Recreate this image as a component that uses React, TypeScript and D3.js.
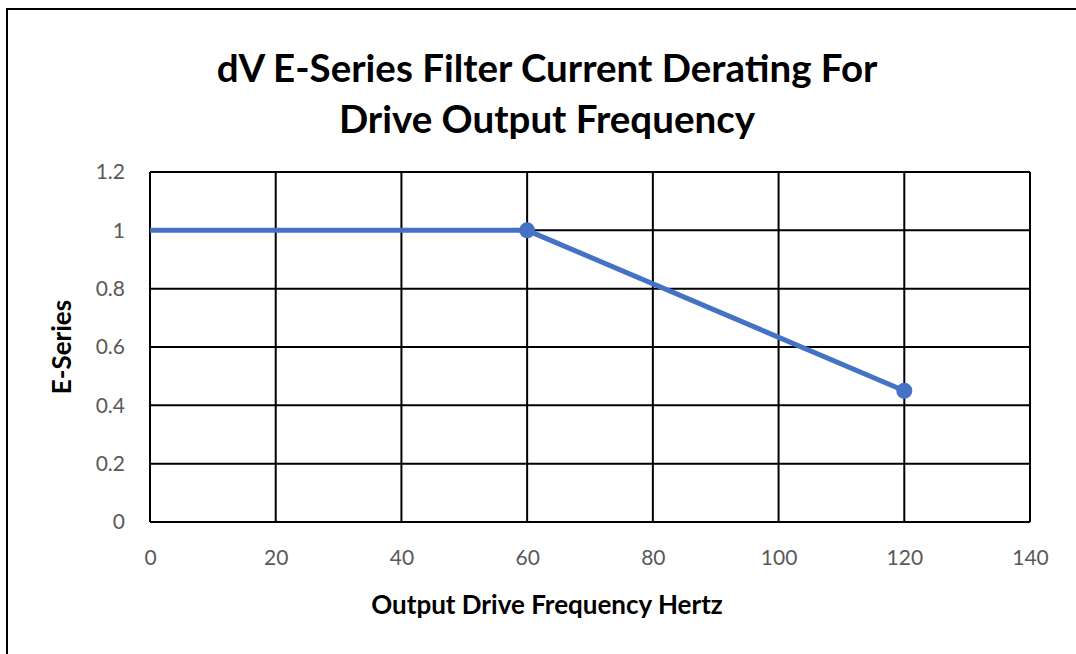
import * as d3 from "d3";
import { useRef, useEffect } from "react";

// chart data
const freqHz: number[] = [0, 60, 120];
const derating: number[] = [1, 1, 0.45];
const markerFreqs: number[] = [60, 120];
const xTicks: number[] = [0, 20, 40, 60, 80, 100, 120, 140];
const yTicks: number[] = [0, 0.2, 0.4, 0.6, 0.8, 1, 1.2];
const titleLines: string[] = [
  "dV E-Series Filter Current Derating For",
  "Drive Output Frequency",
];
const xTitle = "Output Drive Frequency Hertz";
const yTitle = "E-Series";

const width = 1076;
const height = 654;
const marginLeft = 150;
const marginRight = 46;
const marginTop = 172;
const marginBottom = 132;
const font = "Lato, 'Open Sans', sans-serif";
const blue = "#4472C4";

export default function App() {
  const gx = useRef(null);
  const gy = useRef(null);

  const x = d3.scaleLinear([0, 140], [marginLeft, width - marginRight]);
  const y = d3.scaleLinear([0, 1.2], [height - marginBottom, marginTop]);

  useEffect(() => {
    const ax = d3.select(gx.current);
    ax.call(d3.axisBottom(x).tickValues(xTicks).tickSize(0).tickPadding(28));
    ax.select(".domain").remove();
    ax.selectAll("text")
      .attr("font-family", font)
      .attr("font-size", 21)
      .attr("fill", "#595959");

    const ay = d3.select(gy.current);
    ay.call(
      d3.axisLeft(y).tickValues(yTicks).tickSize(0).tickPadding(25).tickFormat(d3.format("~g")),
    );
    ay.select(".domain").remove();
    ay.selectAll("text")
      .attr("font-family", font)
      .attr("font-size", 21)
      .attr("fill", "#595959");
  }, []);

  const points = freqHz.map((f, i) => [f, derating[i]]);
  const line = d3
    .line()
    .x((p) => x(p[0]))
    .y((p) => y(p[1]));

  return (
    <svg
      width={width}
      height={height}
      style={{ position: "absolute", left: 0, top: 0, background: "#fff" }}
    >
      <rect x={7} y={9} width={width + 20} height={height + 20} fill="#fff" stroke="#000" strokeWidth={2} />

      {titleLines.map((t, i) => (
        <text
          key={t}
          x={547}
          y={82 + i * 51}
          textAnchor="middle"
          fontFamily={font}
          fontWeight="bold"
          fontSize={38.5}
          fill="#000"
        >
          {t}
        </text>
      ))}

      {/* grid */}
      <g stroke="#000" strokeWidth={2}>
        {xTicks.map((t) => (
          <line key={"gx" + t} x1={x(t)} x2={x(t)} y1={y(0)} y2={y(1.2)} />
        ))}
        {yTicks.map((t) => (
          <line key={"gy" + t} x1={x(0)} x2={x(140)} y1={y(t)} y2={y(t)} />
        ))}
      </g>

      <g ref={gx} transform={`translate(0,${height - marginBottom})`} />
      <g ref={gy} transform={`translate(${marginLeft},0)`} />

      <path d={line(points)} fill="none" stroke={blue} strokeWidth={5} />
      {markerFreqs.map((f) => {
        const i = freqHz.indexOf(f);
        return <circle key={"m" + f} cx={x(f)} cy={y(derating[i])} r={8} fill={blue} />;
      })}

      <text
        x={547}
        y={614}
        textAnchor="middle"
        fontFamily={font}
        fontWeight="bold"
        fontSize={26}
        fill="#000"
      >
        {xTitle}
      </text>
      <text
        transform={`translate(71,${(y(0) + y(1.2)) / 2}) rotate(-90)`}
        textAnchor="middle"
        fontFamily={font}
        fontWeight="bold"
        fontSize={26}
        fill="#000"
      >
        {yTitle}
      </text>
    </svg>
  );
}
